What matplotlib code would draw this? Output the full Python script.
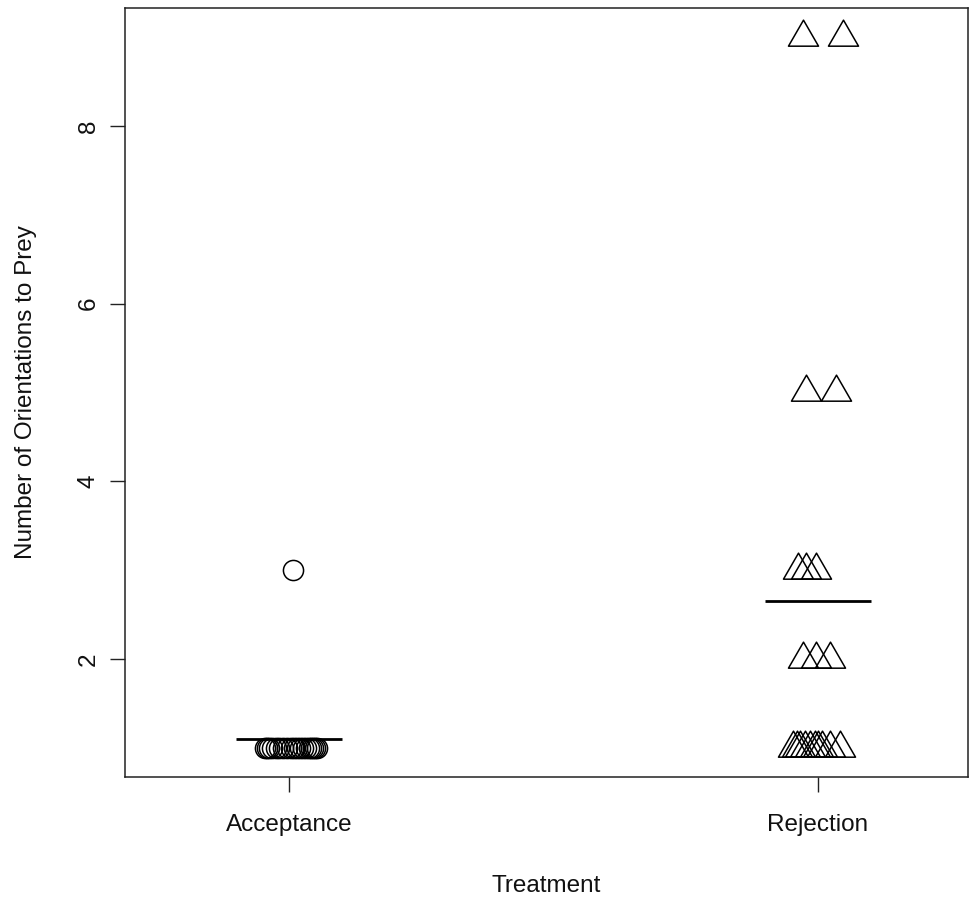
import numpy as np
import matplotlib
matplotlib.use('Agg')
import matplotlib.pyplot as plt
from matplotlib.path import Path

plt.rcParams['font.family'] = ['Liberation Sans', 'DejaVu Sans']

# Data (x positions are the jittered strip positions)
treatments = ['Acceptance', 'Rejection']

accept_y = [3, 1, 1, 1, 1, 1, 1, 1, 1, 1, 1, 1, 1, 1, 1, 1, 1, 1, 1, 1]
accept_x = [1.008, 0.955, 0.958, 0.962, 0.968, 0.975, 0.982, 0.988, 0.996,
            1.004, 1.009, 1.015, 1.021, 1.027, 1.033, 1.037, 1.041, 1.045,
            1.049, 1.053]

reject_y = [9, 9, 5, 5, 3, 3, 3, 2, 2, 2, 1, 1, 1, 1, 1, 1, 1, 1, 1, 1]
reject_x = [1.972, 2.047, 1.977, 2.034, 1.962, 1.977, 1.996, 1.972, 1.996,
            2.023, 1.953, 1.960, 1.966, 1.975, 1.985, 1.994, 2.000, 2.008,
            2.023, 2.042]

W, H, DPI = 972, 898, 100
fig = plt.figure(figsize=(W / DPI, H / DPI), dpi=DPI)
ax = fig.add_axes([125 / W, 1 - 777 / H, (968 - 125) / W, (777 - 8) / H])

# R-style open triangle (pch = 2): apex r above, base r/2 below the point
tri = Path([(0, 1), (-np.sqrt(3) / 2, -0.5), (np.sqrt(3) / 2, -0.5), (0, 1)],
           [Path.MOVETO, Path.LINETO, Path.LINETO, Path.CLOSEPOLY])

ax.plot(accept_x, accept_y, linestyle='none', marker='o', markersize=14.5,
        markerfacecolor='none', markeredgecolor='black', markeredgewidth=1.1)
ax.plot(reject_x, reject_y, linestyle='none', marker=tri, markersize=25,
        markerfacecolor='none', markeredgecolor='black', markeredgewidth=1.1)

# group means
for i, ys in enumerate([accept_y, reject_y]):
    m = np.mean(ys)
    ax.plot([i + 1 - 0.1, i + 1 + 0.1], [m, m], color='black', linewidth=2.0,
            solid_capstyle='butt')

ax.set_xlim(0.69, 2.2836)
ax.set_ylim(0.672, 9.328)
ax.set_xticks([1, 2])
ax.set_xticklabels(treatments)
ax.set_yticks([2, 4, 6, 8])
ax.set_yticklabels(['2', '4', '6', '8'], rotation=90, va='center')

fs = 17.5
ax.tick_params(axis='both', length=10.8, width=1.0, labelsize=fs,
               color='#222222', labelcolor='#111111')
ax.tick_params(axis='x', pad=16)
ax.tick_params(axis='y', pad=7.5)
for s in ax.spines.values():
    s.set_linewidth(1.1)
    s.set_color('#222222')

ax.set_xlabel('Treatment', fontsize=fs, labelpad=28, color='#111111')
ax.set_ylabel('Number of Orientations to Prey', fontsize=fs, labelpad=29,
              color='#111111')

fig.savefig('out.png', dpi=DPI)
